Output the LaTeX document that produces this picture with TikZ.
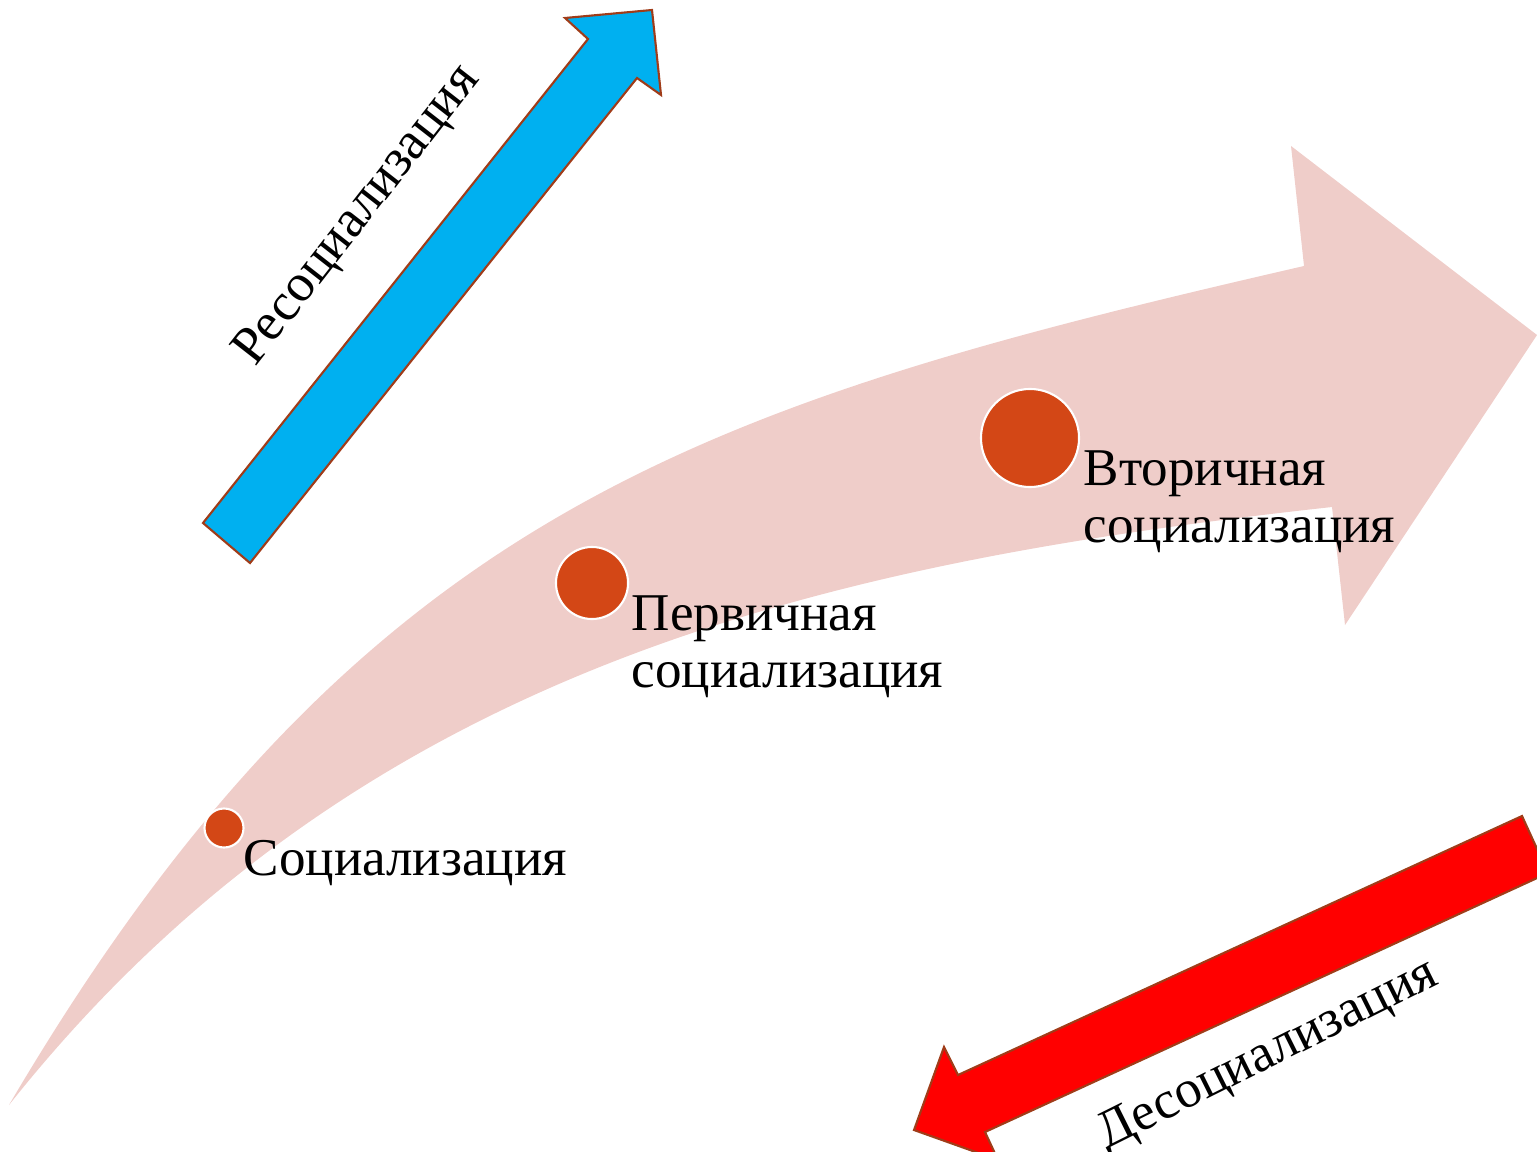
\documentclass[tikz,border=0pt]{standalone}
\usepackage{fontspec}
\setmainfont{Liberation Serif}
\usetikzlibrary{positioning}
\definecolor{bandpink}{RGB}{239,205,201}
\definecolor{dotred}{RGB}{211,71,22}
\definecolor{reblue}{RGB}{0,176,240}
\definecolor{desred}{RGB}{255,0,0}
\definecolor{rimbrown}{RGB}{160,60,25}
\tikzset{
  stage/.style={circle, fill=dotred, draw=white, line width=0.6pt, inner sep=0pt},
  stagetext/.style={font=\fontsize{15.1}{16.2}\selectfont, align=left, inner sep=0pt, anchor=base west},
  turntext/.style={font=\fontsize{15.1}{16.2}\selectfont, inner sep=0pt},
  blockarrow/.style={draw=rimbrown, line width=0.6pt, line join=miter}
}
\begin{document}
\begin{tikzpicture}[x=0.01cm, y=-0.01cm]
  \useasboundingbox (0,0) rectangle (1537,1152);
  \clip (0,0) rectangle (1537,1152);

  % curved band arrow
  \fill[bandpink] (9,1105) .. controls (359,510) and (704,404) .. (1304,266)
    -- (1291,146) -- (1537,335) -- (1345,625) -- (1332,507)
    .. controls (832,562) and (359,664) .. (9,1105) -- cycle;

  % stages
  \node (c1) [stage, minimum size=0.39cm] at (224,828) {};
  \node (c2) [stage, minimum size=0.72cm] at (592,583) {};
  \node (c3) [stage, minimum size=0.98cm] at (1030,438) {};

  \node (t1) [stagetext] at (243,875) {Социализация};
  \node (t2) [stagetext] at (631,687) {Первичная\\социализация};
  \node (t3) [stagetext] at (1083,542) {Вторичная\\социализация};

  % side arrows
  \draw[blockarrow, fill=reblue] (203,523) -- (588,39) -- (565,18) -- (652,10) -- (661,95) -- (637,78) -- (250,563) -- cycle;
  \draw[blockarrow, fill=desred] (1522,816) -- (958,1075) -- (944,1047) -- (914,1130) -- (998,1160) -- (985,1132) -- (1548,873) -- cycle;

  \node (resoc) [turntext, rotate=52] at (358,216) {Ресоциализация};
  \node (desoc) [turntext, rotate=26.5] at (1268,1056) {Десоциализация};
\end{tikzpicture}
\end{document}
